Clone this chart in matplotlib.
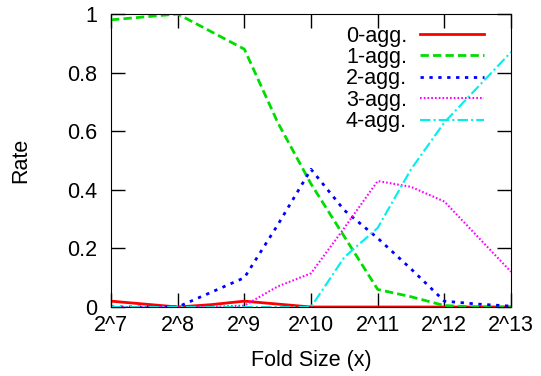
import numpy as np
import matplotlib.pyplot as plt

plt.rcParams['font.family'] = ['Liberation Sans', 'DejaVu Sans']

# fold size as exponent of 2
fold_exp = [7, 7.5, 8, 8.5, 9, 9.5, 10, 10.5, 11, 11.5, 12, 12.5, 13]
tick_exp = [7, 8, 9, 10, 11, 12, 13]
tick_labels = ['2^7', '2^8', '2^9', '2^10', '2^11', '2^12', '2^13']

agg0 = [0.02, 0.01, 0.0, 0.008, 0.02, 0.01, 0.0, 0.0, 0.0, 0.0, 0.0, 0.0, 0.0]
agg1 = [0.98, 0.99, 1.0, 0.94, 0.88, 0.63, 0.42, 0.24, 0.06, 0.035, 0.005, 0.0, 0.0]
agg2 = [0.0, 0.0, 0.0, 0.05, 0.10, 0.28, 0.47, 0.33, 0.235, 0.13, 0.02, 0.01, 0.003]
agg3 = [0.0, 0.0, 0.0, 0.0, 0.005, 0.07, 0.115, 0.27, 0.43, 0.41, 0.36, 0.24, 0.12]
agg4 = [0.0, 0.0, 0.0, 0.0, 0.0, 0.0, 0.0, 0.17, 0.27, 0.47, 0.63, 0.75, 0.87]

fs = 15.5

fig = plt.figure(figsize=(5.41, 3.76), dpi=100)
ax = fig.add_axes([0.2052, 0.1835, 0.7394, 0.7793])

ax.plot(fold_exp, agg0, color='#ff0000', lw=2, ls='-', label='0-agg.')
ax.plot(fold_exp, agg1, color='#00dd00', lw=2, ls=(0, (3, 1.5)), label='1-agg.')
ax.plot(fold_exp, agg2, color='#0000ff', lw=2, ls=(0, (1.2, 2)), label='2-agg.')
ax.plot(fold_exp, agg3, color='#ff00ff', lw=1.5, ls=(0, (0.8, 1)), label='3-agg.')
ax.plot(fold_exp, agg4, color='#00eeee', lw=1.5, ls=(0, (5, 1.5, 1, 1.5)), label='4-agg.')

ax.set_xlim(7, 13)
ax.set_ylim(0, 1)
ax.set_xticks(tick_exp)
ax.set_xticklabels(tick_labels)
ax.set_yticks([0, 0.2, 0.4, 0.6, 0.8, 1])
ax.set_yticklabels(['0', '0.2', '0.4', '0.6', '0.8', '1'])
ax.tick_params(direction='in', length=10, width=1, top=True, right=True,
               labelsize=fs)
ax.tick_params(axis='x', pad=6)
ax.tick_params(axis='y', pad=10)
ax.set_xlabel('Fold Size (x)', fontsize=fs, labelpad=10)
ax.set_ylabel('Rate', fontsize=fs, labelpad=26)

ax.legend(loc='upper right', frameon=False, markerfirst=False, fontsize=fs,
          handlelength=3.0, labelspacing=0.02, borderaxespad=0.0,
          handletextpad=0.6, bbox_to_anchor=(0.955, 0.99))

fig.savefig('out.png', dpi=100)
